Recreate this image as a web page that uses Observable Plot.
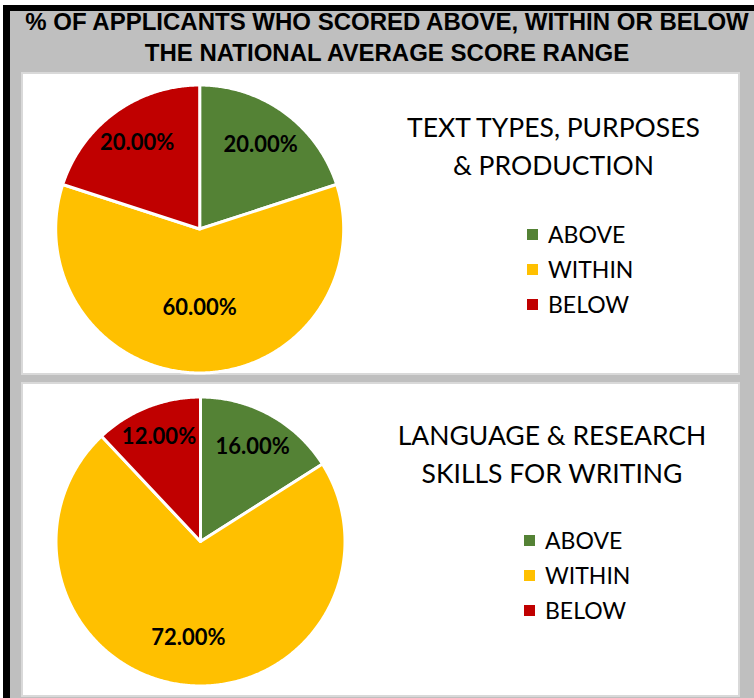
<!DOCTYPE html>
<html>
<head>
<meta charset="utf-8">
<script src="https://cdn.jsdelivr.net/npm/d3@7"></script>
<script src="https://cdn.jsdelivr.net/npm/@observablehq/plot@0.6"></script>
<style>
  body { margin: 0; background: #fff; }
  #frame { position: absolute; left: 0; top: 0; width: 754px; height: 698px; overflow: hidden; background: #fff; }
  .bg { position: absolute; left: 10px; top: 11px; width: 744px; height: 687px; background: #bfbfbf; }
  .bl { position: absolute; background: #000; }
  .panel { position: absolute; left: 21px; width: 715px; background: #fff; border: 2px solid #d9d9d9; }
  .panel svg { position: absolute; left: 0; top: 0; }
  .ttl { position: absolute; left: 10px; width: 754px; text-align: center; font-family: "Liberation Sans Narrow", "Arial Narrow", sans-serif; font-weight: bold; font-size: 24px; line-height: 31px; color: #000; white-space: nowrap; }
  .ptitle { position: absolute; text-align: center; font-family: Lato, sans-serif; font-size: 26.5px; line-height: 37px; color: #000; white-space: nowrap; }
  .leg { position: absolute; font-family: Lato, sans-serif; font-size: 23px; line-height: 35px; color: #000; white-space: nowrap; }
  .sw { position: absolute; width: 11px; height: 11px; }
</style>
</head>
<body>
<div id="frame">
  <div class="bg"></div>
  <div class="bl" style="left:3px;top:5px;width:751px;height:6px"></div>
  <div class="bl" style="left:3px;top:5px;width:7px;height:693px"></div>
</div>
<script>
// ---- data ----
const mainTitle = ["% OF APPLICANTS WHO SCORED ABOVE, WITHIN OR BELOW", "THE NATIONAL AVERAGE SCORE RANGE"];
const categories = ["ABOVE", "WITHIN", "BELOW"];
const colors = ["#548235", "#FFC000", "#C00000"];
const textTypesTitle = ["TEXT TYPES, PURPOSES", "& PRODUCTION"];
const textTypesValues = [20, 60, 20];
const languageTitle = ["LANGUAGE & RESEARCH", "SKILLS FOR WRITING"];
const languageValues = [16, 72, 12];

// ---- layout ----
const panelsLayout = [
  { title: textTypesTitle, values: textTypesValues, top: 74, height: 299, cx: 176.2, cy: 154.5, r: 144,
    labelR: [0.72, 0.545, 0.74], titleCx: 553.5, titleTop: 109, legText: 548, legSq: 527, legTop: 216.6 },
  { title: languageTitle, values: languageValues, top: 384, height: 311, cx: 177, cy: 157, r: 144.5,
    labelR: [0.75, 0.67, 0.78], titleCx: 552, titleTop: 417, legText: 545, legSq: 524, legTop: 522.6 }
];

const frame = document.getElementById("frame");

mainTitle.forEach((t, i) => {
  const d = document.createElement("div");
  d.className = "ttl";
  d.style.top = (6 + i * 31) + "px";
  d.textContent = t;
  frame.appendChild(d);
});

function pie(values, cx, cy, r, w, h, labelR) {
  const arcs = d3.pie().sort(null).value(d => d)(values);
  const polys = [];
  arcs.forEach((a, i) => {
    polys.push({cat: categories[i], x: 0, y: 0});
    const n = Math.max(2, Math.ceil((a.endAngle - a.startAngle) / (Math.PI / 360)));
    for (let k = 0; k <= n; k++) {
      const t = a.startAngle + (a.endAngle - a.startAngle) * k / n;
      polys.push({cat: categories[i], x: Math.sin(t), y: Math.cos(t)});
    }
    polys.push({cat: categories[i], x: 0, y: 0});
  });
  const labels = arcs.map((a, i) => {
    const m = (a.startAngle + a.endAngle) / 2;
    return {x: labelR[i] * Math.sin(m), y: labelR[i] * Math.cos(m), text: d3.format(".2f")(values[i]) + "%"};
  });
  return Plot.plot({
    width: w, height: h, margin: 0,
    x: {domain: [-1, 1], range: [cx - r, cx + r], axis: null},
    y: {domain: [-1, 1], range: [cy + r, cy - r], axis: null},
    color: {domain: categories, range: colors},
    style: {background: "transparent", overflow: "visible"},
    marks: [
      Plot.line(polys, {x: "x", y: "y", z: "cat", fill: "cat", stroke: "white", strokeWidth: 3, strokeLinejoin: "miter", strokeMiterlimit: 4}),
      Plot.text(labels, {x: "x", y: "y", text: "text", fontSize: 22, fontWeight: "bold", fontFamily: "Lato", fill: "black"})
    ]
  });
}

panelsLayout.forEach(p => {
  const panel = document.createElement("div");
  panel.className = "panel";
  panel.style.top = (p.top - 2) + "px";
  panel.style.height = p.height + "px";
  frame.appendChild(panel);
  panel.appendChild(pie(p.values, p.cx, p.cy, p.r, 715, p.height, p.labelR));

  p.title.forEach((t, i) => {
    const d = document.createElement("div");
    d.className = "ptitle";
    d.style.left = (p.titleCx - 200) + "px";
    d.style.width = "400px";
    d.style.top = (p.titleTop + i * 38) + "px";
    d.textContent = t;
    frame.appendChild(d);
  });

  categories.forEach((c, i) => {
    const top = p.legTop + i * 35;
    const d = document.createElement("div");
    d.className = "leg";
    d.style.left = p.legText + "px";
    d.style.top = top + "px";
    d.textContent = c;
    frame.appendChild(d);
    const s = document.createElement("div");
    s.className = "sw";
    s.style.left = p.legSq + "px";
    s.style.top = (top + 26.4 - 8.3 - 5.5) + "px";
    s.style.background = colors[i];
    frame.appendChild(s);
  });
});
</script>
</body>
</html>
